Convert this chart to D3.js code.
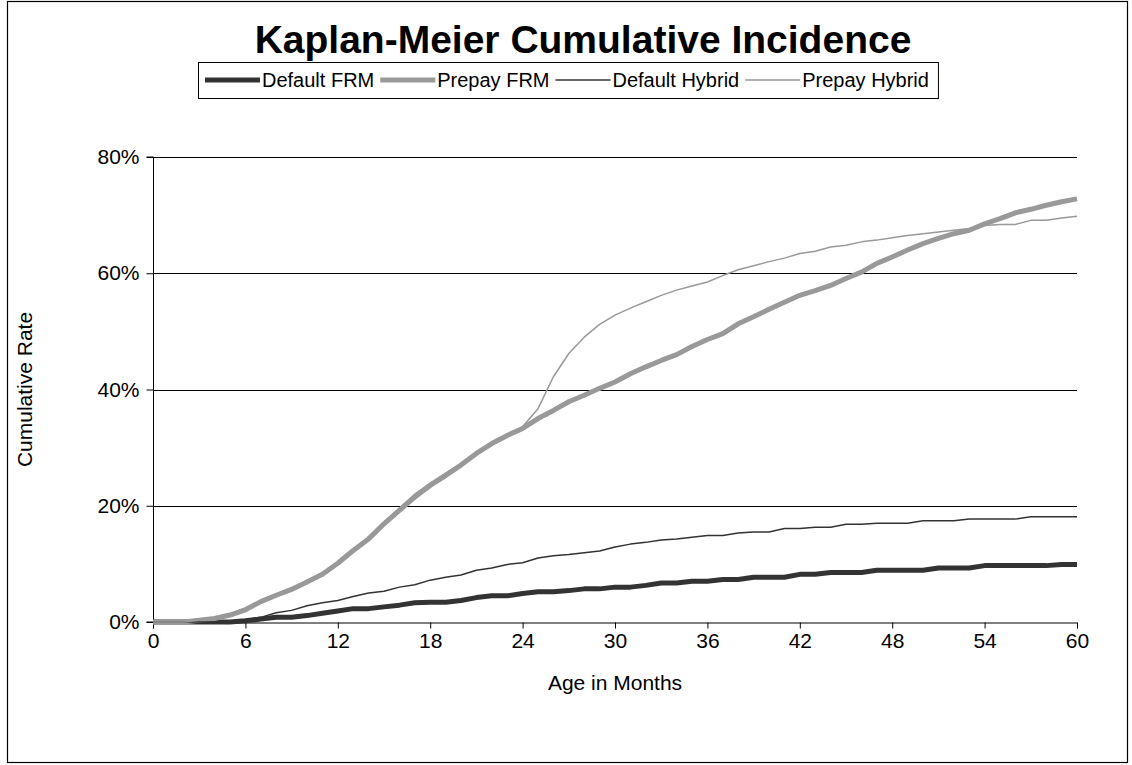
<!DOCTYPE html>
<html>
<head>
<meta charset="utf-8">
<script src="https://cdn.jsdelivr.net/npm/d3@7"></script>
<style>
  html, body { margin: 0; padding: 0; background: #fff; }
  svg { display: block; font-family: "Liberation Sans", Arial, sans-serif; }
</style>
</head>
<body>
<svg id="chart" width="1132" height="765"></svg>
<script>
const months = d3.range(0, 61);
const defaultFRM = [0,0,0,0,0,0,0.2,0.5,0.8,0.8,1.1,1.5,1.9,2.3,2.3,2.6,2.9,3.3,3.4,3.4,3.7,4.2,4.5,4.5,4.9,5.2,5.2,5.4,5.7,5.7,6.0,6.0,6.3,6.7,6.7,7.0,7.0,7.3,7.3,7.7,7.7,7.7,8.2,8.2,8.5,8.5,8.5,8.9,8.9,8.9,8.9,9.3,9.3,9.3,9.7,9.7,9.7,9.7,9.7,9.9,9.9];
const prepayFRM = [0,0,0,0.3,0.6,1.2,2.1,3.5,4.6,5.6,6.9,8.2,10.1,12.3,14.3,16.9,19.2,21.5,23.5,25.2,27.0,29.0,30.7,32.1,33.3,35.0,36.4,37.9,39.0,40.2,41.3,42.7,43.9,45.0,46.0,47.4,48.6,49.6,51.3,52.5,53.8,55.0,56.2,57.0,57.9,59.1,60.2,61.7,62.8,64.0,65.1,66.0,66.8,67.4,68.5,69.4,70.4,71.0,71.7,72.3,72.8];
const defaultHybrid = [0,0,0,0,0,0,0.4,0.8,1.6,2.0,2.8,3.3,3.7,4.4,5.0,5.3,6.0,6.4,7.2,7.7,8.1,8.9,9.3,9.9,10.2,11.0,11.4,11.6,11.9,12.2,12.9,13.4,13.7,14.1,14.3,14.6,14.9,14.9,15.3,15.5,15.5,16.1,16.1,16.3,16.3,16.8,16.8,17.0,17.0,17.0,17.4,17.4,17.4,17.7,17.7,17.7,17.7,18.1,18.1,18.1,18.1];
const prepayHybrid = [0,0,0,0.3,0.7,1.4,2.4,3.6,4.6,5.9,7.1,8.5,10.2,12.3,14.4,17.2,19.6,22.0,23.9,25.6,27.3,29.2,30.6,31.9,33.6,36.7,42.2,46.2,49.0,51.2,52.8,54.0,55.1,56.2,57.1,57.8,58.5,59.6,60.6,61.3,62.0,62.6,63.4,63.8,64.5,64.8,65.4,65.7,66.1,66.5,66.8,67.1,67.4,67.7,68.2,68.4,68.4,69.1,69.1,69.5,69.8];
const seriesNames = ["Default FRM", "Prepay FRM", "Default Hybrid", "Prepay Hybrid"];
const seriesValues = [defaultFRM, prepayFRM, defaultHybrid, prepayHybrid];
const xTicks = [0, 6, 12, 18, 24, 30, 36, 42, 48, 54, 60];
const yTicks = [0, 20, 40, 60, 80];
const titleText = "Kaplan-Meier Cumulative Incidence";
const xTitle = "Age in Months";
const yTitle = "Cumulative Rate";

const styles = [
  {color: "#333333", width: 5},
  {color: "#999999", width: 5},
  {color: "#333333", width: 1.5},
  {color: "#999999", width: 1.5}
];

const svg = d3.select("#chart");
const m = {left: 153, right: 1077, top: 157, bottom: 622};

svg.append("rect").attr("x", 7.5).attr("y", 1.5).attr("width", 1120).attr("height", 761)
  .attr("fill", "#fff").attr("stroke", "#000").attr("stroke-width", 1.2);

const x = d3.scaleLinear().domain([0, 60]).range([m.left, m.right]);
const y = d3.scaleLinear().domain([0, 80]).range([m.bottom, m.top]);

svg.append("g").selectAll("line").data(yTicks.filter(d => d > 0)).join("line")
  .attr("x1", m.left).attr("x2", m.right)
  .attr("y1", d => Math.round(y(d)) + 0.5).attr("y2", d => Math.round(y(d)) + 0.5)
  .attr("stroke", "#000").attr("stroke-width", 1);

const yAxis = d3.axisLeft(y).tickValues(yTicks).tickFormat(d => d + "%").tickSize(7).tickPadding(7);
const xAxis = d3.axisBottom(x).tickValues(xTicks).tickSize(6).tickPadding(5);

const gy = svg.append("g").attr("transform", `translate(${m.left + 0.5},0)`).call(yAxis);
const gx = svg.append("g").attr("transform", `translate(0,${m.bottom + 0.5})`).call(xAxis);
[gx, gy].forEach(g => {
  g.select(".domain").attr("stroke", "#000").attr("stroke-width", 1);
  g.selectAll(".tick line").attr("stroke", "#000");
  g.selectAll(".tick text").attr("fill", "#000").attr("font-size", 21)
    .attr("font-family", "Liberation Sans, Arial, sans-serif");
});
gy.select(".domain").attr("d", `M-7,${m.top}H0V${m.bottom}H-7`);

const line = d3.line().x((d, i) => x(months[i])).y(d => y(d));
[0, 1, 2, 3].forEach(k => {
  svg.append("path").datum(seriesValues[k])
    .attr("d", line).attr("fill", "none")
    .attr("stroke", styles[k].color).attr("stroke-width", styles[k].width)
    .attr("stroke-linejoin", "round").attr("stroke-linecap", "butt");
});

svg.append("text").attr("x", 583).attr("y", 53).attr("text-anchor", "middle")
  .attr("font-size", 39).attr("font-weight", "bold").text(titleText);
svg.append("text").attr("x", (m.left + m.right) / 2).attr("y", 690).attr("text-anchor", "middle")
  .attr("font-size", 21).text(xTitle);
svg.append("text").attr("transform", `translate(32,${(m.top + m.bottom) / 2}) rotate(-90)`)
  .attr("text-anchor", "middle").attr("font-size", 21).text(yTitle);

const lg = svg.append("g");
const lineLen = 55, gapAfterLine = 2, gapAfterText = 6;
let cx = 205;
const ly = 80;
seriesNames.forEach((name, k) => {
  lg.append("line").attr("x1", cx).attr("x2", cx + lineLen).attr("y1", ly).attr("y2", ly)
    .attr("stroke", styles[k].color).attr("stroke-width", styles[k].width);
  cx += lineLen + gapAfterLine;
  const tx = lg.append("text").attr("x", cx).attr("y", ly + 7).attr("font-size", 20).text(name);
  cx += tx.node().getComputedTextLength() + gapAfterText;
});
const lx0 = 198, ly0 = 62;
lg.insert("rect", ":first-child").attr("x", lx0 + 0.5).attr("y", ly0 + 0.5)
  .attr("width", cx - lx0 + 3).attr("height", 36).attr("fill", "#fff").attr("stroke", "#000");
</script>
</body>
</html>
